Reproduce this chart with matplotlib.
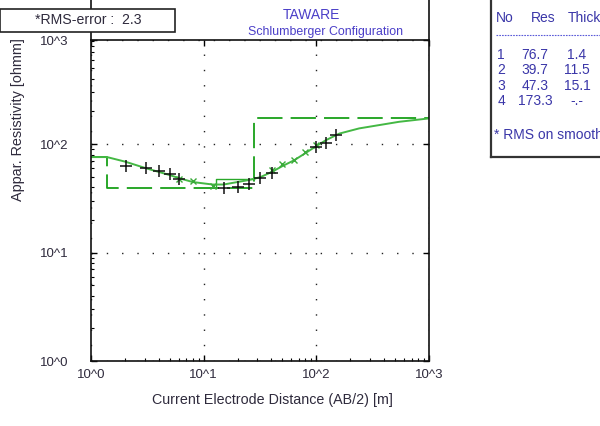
import numpy as np
import matplotlib
matplotlib.use("Agg")
import matplotlib.pyplot as plt
from matplotlib.lines import Line2D
from matplotlib.patches import Rectangle
from matplotlib.ticker import LogLocator, NullFormatter, FixedLocator, FixedFormatter

plt.rcParams['font.family'] = ['Liberation Sans', 'DejaVu Sans']

# field data (black +)
ab2_meas = [2.03, 3.10, 4.04, 5.0, 6.07, 15.0, 20.1, 25.0, 31.9, 40.4, 99.4, 121.9, 149.3]
rho_meas = [63.1, 59.7, 57.0, 52.6, 47.6, 39.1, 40.1, 42.8, 48.6, 53.7, 94.4, 102.8, 121.1]

# second segment data (green x)
ab2_calc = [6.0, 8.04, 12.1, 40.2, 49.7, 63.9, 79.9, 99.4]
rho_calc = [47.3, 45.3, 41.0, 57.6, 65.4, 71.2, 83.8, 97.9]

# smoothed model curve
ab2_curve = [1.0, 1.39, 2.03, 3.11, 5.0, 6.13, 8.0, 12.0, 15.0, 25.0, 31.9, 40.0,
             50.0, 63.9, 80.0, 100, 122, 160, 240, 543, 1000]
rho_curve = [75.9, 75.9, 68.7, 59.7, 51.8, 48.3, 44.7, 42.4, 42.4, 46.6, 49.6, 55.2,
             62.7, 71.2, 82.6, 95.9, 108.9, 125, 139.6, 160.6, 172.6]

# layered model
layer_no = [1, 2, 3, 4]
layer_res = [76.7, 39.7, 47.3, 173.3]
layer_thick = [1.4, 11.5, 15.1]
rms_error = 2.3

depth = np.cumsum(layer_thick)

W, H = 600, 426
fig = plt.figure(figsize=(6, 4.26), dpi=100)
ax = fig.add_axes([91 / W, 65 / H, (429 - 91) / W, (361 - 40) / H])
ax.set_xscale('log')
ax.set_yscale('log')
ax.set_xlim(1, 1000)
ytop = 10 ** 2.96
ax.set_ylim(1, ytop)

green = '#2aa82a'
# dashed model: layer 1, layer 2 down to base of layer 3, half-space
dx = [1, depth[0], depth[0], depth[2], depth[2], 1000]
dy = [layer_res[0], layer_res[0], layer_res[1], layer_res[1], layer_res[3], layer_res[3]]
ax.plot(dx, dy, color='#18a018', lw=1.3, dashes=(14, 4.5))
# thin solid piece for layer 3
ax.plot([depth[1], depth[1], depth[2]], [layer_res[1], layer_res[2], layer_res[2]],
        color=green, lw=1.0)

ax.plot(ab2_curve, rho_curve, color='#44b844', lw=1.4)
ax.plot(ab2_calc, rho_calc, 'x', color='#3aaa3a', ms=5, mew=1)
ax.plot(ab2_meas, rho_meas, '+', color='#111111', ms=8, mew=1.1)

txtc = '#2e2a3c'
ax.xaxis.set_major_locator(FixedLocator([1, 10, 100, 1000]))
ax.xaxis.set_major_formatter(FixedFormatter(['10^0', '10^1', '10^2', '10^3']))
ax.xaxis.set_minor_locator(LogLocator(base=10, subs=np.arange(2, 10)))
ax.xaxis.set_minor_formatter(NullFormatter())
ax.yaxis.set_major_locator(FixedLocator([1, 10, 100, ytop]))
ax.yaxis.set_major_formatter(FixedFormatter(['10^0', '10^1', '10^2', '10^3']))
ax.yaxis.set_minor_locator(LogLocator(base=10, subs=np.arange(2, 10)))
ax.yaxis.set_minor_formatter(NullFormatter())

ax.tick_params(axis='both', which='major', direction='in', length=4.5, width=1,
               labelsize=9.5, labelcolor=txtc, top=True, right=True)
ax.tick_params(axis='both', which='minor', direction='in', length=2, width=0.8,
               top=False, right=False)
ax.tick_params(axis='x', which='major', pad=6)
ax.tick_params(axis='y', which='major', pad=16)
for s in ax.spines.values():
    s.set_linewidth(1.2)
    s.set_color('#111111')

ax.grid(True, which='major', ls=(0, (1, 10)), color='#222222', lw=1)

ax.set_xlabel('Current Electrode Distance (AB/2) [m]', fontsize=10.3, color=txtc)
ax.xaxis.set_label_coords((272 - 91) / (429 - 91), -(393 - 361) / (361 - 40))
fig.text(18 / W, 1 - 120 / H, 'Appar. Resistivity [ohmm]', rotation=90,
         ha='center', va='center', fontsize=10.4, color=txtc)

# spines extended up to the figure top
for xp in (91, 429):
    fig.add_artist(Line2D([xp / W, xp / W], [1 - 40 / H, 1], color='#111111', lw=1.2))

# titles
title_c = '#4a3ec8'
fig.text(311 / W, 1 - 15 / H, 'TAWARE', ha='center', va='center', fontsize=10, color=title_c)
fig.text(326 / W, 1 - 32 / H, 'Schlumberger Configuration', ha='center', va='center',
         fontsize=8.9, color=title_c)

# RMS error box
fig.add_artist(Rectangle((0, 1 - 32 / H), 175 / W, 23 / H, transform=fig.transFigure,
                         facecolor='white', edgecolor='#222222', lw=1.2, zorder=5))
fig.text(88 / W, 1 - 20.5 / H, '*RMS-error :  %.1f' % rms_error, ha='center', va='center',
         fontsize=10.2, color=txtc, zorder=6)

# layer table
tab_c = '#3a36a8'
fs_tab = 10
fig.add_artist(Line2D([491 / W, 491 / W], [1 - 157 / H, 1], color='#333333', lw=1.6))
fig.add_artist(Line2D([491 / W, 1], [1 - 157 / H, 1 - 157 / H], color='#333333', lw=1.6))
fig.text(496 / W, 1 - 18 / H, 'No', ha='left', va='center', fontsize=fs_tab, color=tab_c)
fig.text(531 / W, 1 - 18 / H, 'Res', ha='left', va='center', fontsize=fs_tab, color=tab_c)
fig.text(568 / W, 1 - 18 / H, 'Thick', ha='left', va='center', fontsize=fs_tab, color=tab_c)
fig.add_artist(Line2D([496 / W, 1], [1 - 35 / H, 1 - 35 / H], color='#5a5ad8', lw=0.8,
                      dashes=(1.5, 1)))
row_y = [55, 70, 86, 101]
for i, (n, r) in enumerate(zip(layer_no, layer_res)):
    th = '%.1f' % layer_thick[i] if i < len(layer_thick) else '-.-'
    fig.text(501 / W, 1 - row_y[i] / H, str(n), ha='center', va='center', fontsize=fs_tab, color=tab_c)
    fig.text(535 / W, 1 - row_y[i] / H, '%.1f' % r, ha='center', va='center', fontsize=fs_tab, color=tab_c)
    fig.text(577 / W, 1 - row_y[i] / H, th, ha='center', va='center', fontsize=fs_tab, color=tab_c)
fig.text(494 / W, 1 - 135 / H, '* RMS on smoothed curve', ha='left', va='center',
         fontsize=fs_tab, color=tab_c)

fig.savefig('out.png', dpi=100)
